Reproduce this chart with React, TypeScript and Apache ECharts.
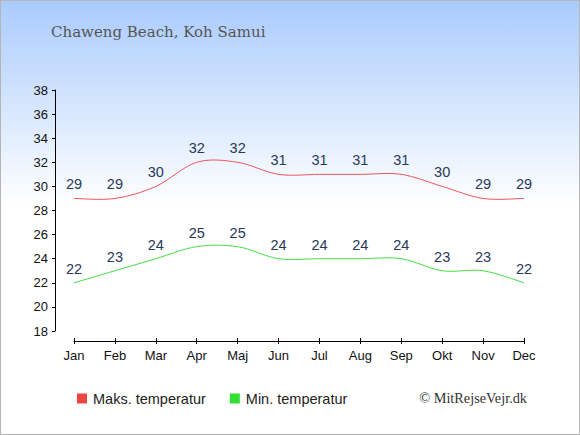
import React, { useEffect, useRef } from "react";
import * as echarts from "echarts";

const months = ["Jan", "Feb", "Mar", "Apr", "Maj", "Jun", "Jul", "Aug", "Sep", "Okt", "Nov", "Dec"];
const maxTemps = [29, 29, 30, 32, 32, 31, 31, 31, 31, 30, 29, 29];
const minTemps = [22, 23, 24, 25, 25, 24, 24, 24, 24, 23, 23, 22];
const titleText = "Chaweng Beach, Koh Samui";
const maxName = "Maks. temperatur";
const minName = "Min. temperatur";
const credit = "© MitRejseVejr.dk";

function splinePath(pts: number[][]): string {
  let d = `M${pts[0][0]},${pts[0][1]}`;
  for (let i = 0; i < pts.length - 1; i++) {
    const p0 = pts[Math.max(0, i - 1)];
    const p1 = pts[i];
    const p2 = pts[i + 1];
    const p3 = pts[Math.min(pts.length - 1, i + 2)];
    const c1x = p1[0] + (p2[0] - p0[0]) / 6;
    const c1y = p1[1] + (p2[1] - p0[1]) / 6;
    const c2x = p2[0] - (p3[0] - p1[0]) / 6;
    const c2y = p2[1] - (p3[1] - p1[1]) / 6;
    d += ` C${c1x},${c1y} ${c2x},${c2y} ${p2[0]},${p2[1]}`;
  }
  return d;
}

function curveSeries(values: number[], color: string) {
  return {
    type: "custom",
    name: "curve-" + color,
    data: [0],
    silent: true,
    z: 3,
    renderItem: (_params: any, api: any) => {
      const pts = values.map((v, i) => api.coord([i, v]));
      return {
        type: "path",
        shape: { pathData: splinePath(pts) },
        style: { fill: "none", stroke: color, lineWidth: 1 },
      };
    },
  };
}

export default function App() {
  const ref = useRef<HTMLDivElement>(null);
  useEffect(() => {
    if (!ref.current) return;
    const chart = echarts.init(ref.current, null, { renderer: "svg" });
    const labelStyle = {
      show: true,
      position: "top" as const,
      distance: 6,
      color: "#28385a",
      fontSize: 14.5,
      fontFamily: "Liberation Sans, Arial, sans-serif",
    };
    const axisFont = { fontFamily: "Liberation Sans, Arial, sans-serif", fontSize: 13, color: "#111" };
    const pointSeries = (name: string, data: number[]) => ({
      name,
      type: "line",
      data,
      symbol: "circle",
      symbolSize: 1,
      showSymbol: true,
      itemStyle: { color: "rgba(0,0,0,0)", borderWidth: 0 },
      lineStyle: { width: 0, color: "rgba(0,0,0,0)" },
      label: labelStyle,
      z: 4,
    });
    chart.setOption({
      animation: false,
      backgroundColor: "transparent",
      title: {
        text: titleText,
        left: 51,
        top: 24,
        padding: 0,
        textStyle: { fontFamily: "DejaVu Serif, serif", fontSize: 15, fontWeight: "normal", color: "#555" },
      },
      legend: {
        left: 77,
        top: 391,
        padding: 0,
        icon: "rect",
        itemWidth: 10,
        itemHeight: 10,
        itemGap: 24,
        textStyle: { fontFamily: "Liberation Sans, Arial, sans-serif", fontSize: 14.5, color: "#222", padding: [0, 0, 0, 1] },
        data: [
          { name: maxName, itemStyle: { color: "#ee4444" } },
          { name: minName, itemStyle: { color: "#33dd33" } },
        ],
      },
      grid: { left: 74, right: 56, top: 90, bottom: 104, containLabel: false },
      xAxis: [
        {
          type: "category",
          data: months,
          boundaryGap: false,
          offset: 10,
          axisLine: { lineStyle: { color: "#000", width: 1 } },
          axisTick: { show: true, length: 3, lineStyle: { color: "#000" } },
          axisLabel: { ...axisFont, margin: 8 },
          splitLine: { show: false },
        },
        {
          type: "category",
          data: months,
          boundaryGap: false,
          position: "bottom",
          offset: 10,
          axisLine: { show: false },
          axisTick: { show: true, inside: true, length: 3, lineStyle: { color: "#000" } },
          axisLabel: { show: false },
          splitLine: { show: false },
        },
      ],
      yAxis: [
        {
          type: "value",
          min: 18,
          max: 38,
          interval: 2,
          offset: 19,
          axisLine: { show: true, lineStyle: { color: "#000", width: 1 } },
          axisTick: { show: true, length: 3, lineStyle: { color: "#000" } },
          axisLabel: { ...axisFont, margin: 7 },
          splitLine: { show: false },
        },
      ],
      graphic: [
        {
          type: "text",
          right: 53,
          top: 391,
          style: {
            text: credit,
            font: "14.3px 'Liberation Serif', serif",
            fill: "#333",
          },
        },
      ],
      series: [
        pointSeries(maxName, maxTemps),
        pointSeries(minName, minTemps),
        curveSeries(maxTemps, "#ee5555"),
        curveSeries(minTemps, "#44dd44"),
      ],
    });
    return () => chart.dispose();
  }, []);
  return (
    <div
      style={{
        position: "fixed",
        left: 0,
        top: 0,
        width: 580,
        height: 435,
        background: "linear-gradient(to bottom, #a9cbfd 0px, #ffffff 205px, #ffffff 435px)",
        boxShadow: "inset 0 0 0 1px #b5b5b5",
      }}
    >
      <div ref={ref} style={{ width: 580, height: 435 }} />
    </div>
  );
}
